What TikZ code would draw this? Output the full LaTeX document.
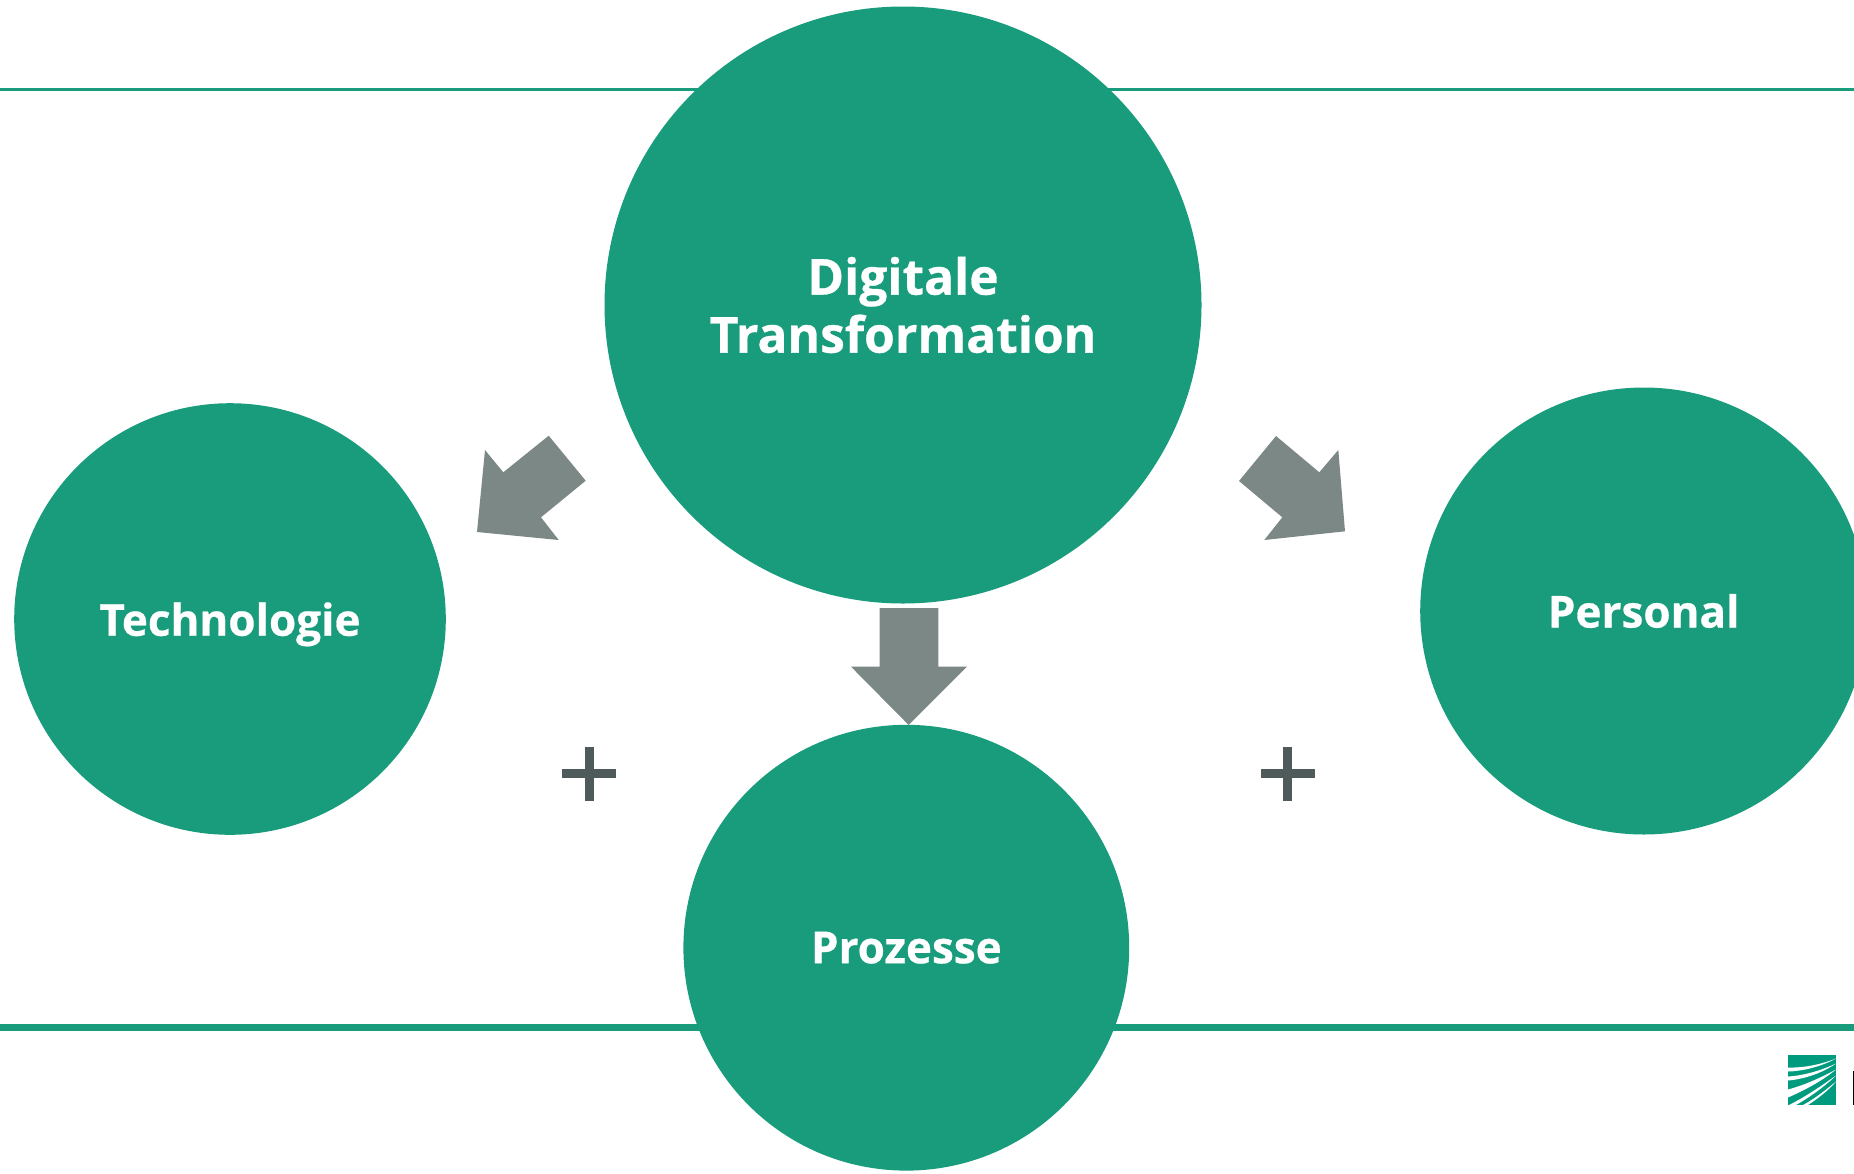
\documentclass[tikz,border=0pt]{standalone}
\usepackage{fontspec}
\setmainfont[BoldFeatures={FakeBold=0.6}]{Open Sans}
\definecolor{fgreen}{HTML}{189C7C}
\definecolor{logogreen}{HTML}{009B7F}
\definecolor{arrowgrey}{HTML}{7C8886}
\definecolor{plusgrey}{HTML}{4F5B5A}
\tikzset{
  topic/.style={circle,fill=fgreen,draw=none,inner sep=0pt,text=white,align=center,font=\fontsize{44}{58}\selectfont\bfseries},
  bigtopic/.style={topic,font=\fontsize{49.7}{58}\selectfont\bfseries},
  blockarrow/.style={fill=arrowgrey,draw=none},
  plusbar/.style={fill=plusgrey,draw=none},
  rule/.style={draw=fgreen,line cap=butt},
  logocut/.style={fill=white,draw=none}
}
\begin{document}
\begin{tikzpicture}[x=1pt,y=-1pt]
\useasboundingbox[fill=white] (0,0) rectangle (1854,1173);
% rules
\coordinate (tl) at (0,89.8); \coordinate (tr) at (1854,89.8);
\coordinate (bl) at (0,1027.8); \coordinate (br) at (1854,1027.8);
\draw[rule,line width=3pt] (tl) -- (tr);
\draw[rule,line width=7pt] (bl) -- (br);
% circles
\node[bigtopic,minimum size=597pt] (dt) at (903,305) {Digitale\\Transformation};
\node[topic,minimum size=431.6pt,text depth=0pt] (tech) at (230,619) {Technologie};
\node[topic,minimum size=447pt] (pers) at (1643.7,611) {Personal};
\node[topic,minimum size=445.8pt] (proz) at (906.3,947.7) {Prozesse};
% block arrows
\fill[blockarrow] (548.7,435.7) -- (585.7,480.7) -- (541,517.3) -- (558.7,540) -- (477,532) -- (485,450) -- (503.3,472.3) -- cycle;
\fill[blockarrow] (1276,436) -- (1239,481) -- (1282.3,517.3) -- (1264.3,540) -- (1345,531.3) -- (1338.3,450) -- (1319.3,472.3) -- cycle;
\fill[blockarrow] (879.7,608) -- (938.3,608) -- (938.3,666.7) -- (967,666.7) -- (908.7,725) -- (851,666.7) -- (879.7,666.7) -- cycle;
% plus signs
\fill[plusbar] (585,746.7) rectangle (594,800.7);
\fill[plusbar] (562.3,769) rectangle (616.3,778.3);
\fill[plusbar] (1283.3,746.7) rectangle (1292.3,800.7);
\fill[plusbar] (1260.6,769) rectangle (1314.6,778.3);
% logo
\fill[logogreen] (1788,1055) rectangle (1836,1105);
\fill[logocut] (1788,1067.5) .. controls (1805,1068) and (1822,1064) .. (1836,1058.5) .. controls (1822,1066) and (1805,1071) .. (1788,1071.5) -- cycle;
\fill[logocut] (1788,1076.5) .. controls (1805,1075.5) and (1822,1070) .. (1836,1063.5) .. controls (1822,1073) and (1805,1079) .. (1788,1080.5) -- cycle;
\fill[logocut] (1788,1089.5) .. controls (1805,1085) and (1822,1077) .. (1836,1069.5) .. controls (1822,1081) and (1805,1090) .. (1788,1097.5) -- cycle;
\fill[logocut] (1789,1105) .. controls (1807,1096) and (1824,1084) .. (1836,1075.5) .. controls (1824,1087) and (1810,1097) .. (1796,1105) -- cycle;
\fill[logocut] (1803,1105) .. controls (1816,1098) and (1828,1088) .. (1836,1081.5) .. controls (1828,1091) and (1817,1099) .. (1808,1105) -- cycle;
\fill[black] (1853,1071) rectangle (1854,1105);
\end{tikzpicture}
\end{document}
